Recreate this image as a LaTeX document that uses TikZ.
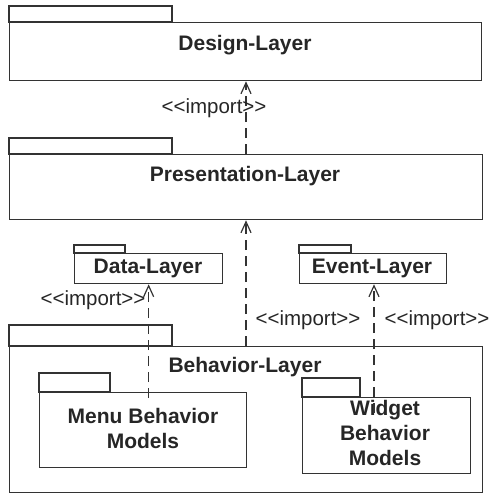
\documentclass[tikz,border=0pt]{standalone}
\usepackage{fontspec}
\newfontfamily\arial{Liberation Sans}
\usetikzlibrary{arrows.meta}
\begin{document}
\begin{tikzpicture}[x=1pt,y=-1pt,
  pkg/.style={draw=black!80, line width=1.3pt, rectangle, anchor=north west, inner sep=0pt},
  title/.style={font=\arial\bfseries\fontsize{21}{25}\selectfont, text=black!85, align=center, inner sep=0pt},
  lab/.style={font=\arial\fontsize{20.5}{24}\selectfont, text=black!85, inner sep=0pt},
  dep/.style={draw=black!80, line width=1.3pt, dash pattern=on 10pt off 6pt, -{Straight Barb[length=11pt,width=10pt,line width=1.2pt]}}]
\useasboundingbox (0,0) rectangle (491,493);
% Design layer
\node[pkg, minimum width=472pt, minimum height=58pt] (design) at (9,22) {};
\draw[draw=black!80, line width=1.3pt] (design.north west) rectangle ++(163,-16);
\node[title] (designT) at (245,45) {Design-Layer};
% Presentation layer
\node[pkg, minimum width=473pt, minimum height=65pt] (pres) at (9,154) {};
\draw[draw=black!80, line width=1.3pt] (pres.north west) rectangle ++(163,-16);
\node[title] (presT) at (245,176) {Presentation-Layer};
% Data layer
\node[pkg, minimum width=148pt, minimum height=30pt] (data) at (74,253) {};
\draw[draw=black!80, line width=1.3pt] (data.north west) rectangle ++(51,-8);
\node[title] (dataT) at (148,268) {Data-Layer};
% Event layer
\node[pkg, minimum width=147pt, minimum height=30pt] (event) at (299,253) {};
\draw[draw=black!80, line width=1.3pt] (event.north west) rectangle ++(52,-8);
\node[title] (eventT) at (372,268) {Event-Layer};
% Behavior layer
\node[pkg, minimum width=473pt, minimum height=146pt] (behav) at (9,346) {};
\draw[draw=black!80, line width=1.3pt] (behav.north west) rectangle ++(163,-21);
\node[title] (behavT) at (245,367) {Behavior-Layer};
% Menu behavior models
\node[pkg, minimum width=207pt, minimum height=75pt] (menu) at (39,392) {};
\draw[draw=black!80, line width=1.3pt] (menu.north west) rectangle ++(71,-19);
\node[title] (menuT) at (143,428) {Menu Behavior\\Models};
% Widget behavior models
\node[pkg, minimum width=168pt, minimum height=76pt] (widget) at (302,397) {};
\draw[draw=black!80, line width=1.3pt] (widget.north west) rectangle ++(58,-19);
\node[title] (widgetT) at (385,433) {Widget\\Behavior\\Models};
% dependencies
\coordinate (p1) at (pres.north -| 246,0);
\coordinate (d1) at (design.south -| 246,0);
\draw[dep] (p1) -- (d1);
\coordinate (b1) at (behav.north -| 246,0);
\coordinate (p2) at (pres.south -| 246,0);
\draw[dep] (b1) -- (p2);
\coordinate (m1) at ([yshift=-6pt]menu.north -| data.south);
\draw[dep] (m1) -- (data.south);
\coordinate (w1) at ([yshift=-16pt]widget.north -| 374,0);
\coordinate (e1) at (event.south -| 374,0);
\draw[dep] (w1) -- (e1);
% labels
\node[lab] (l1) at (214,108) {<<import>>};
\node[lab] (l2) at (93,300) {<<import>>};
\node[lab] (l3) at (308,320) {<<import>>};
\node[lab] (l4) at (437,320) {<<import>>};
\end{tikzpicture}
\end{document}
